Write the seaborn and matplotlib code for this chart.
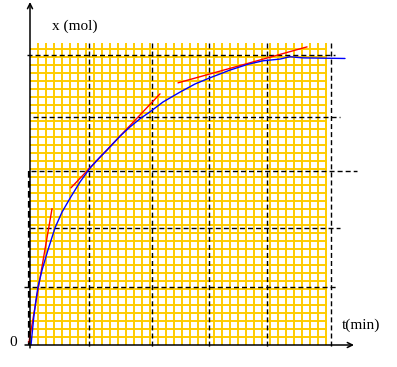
import numpy as np
import pandas as pd
import matplotlib
matplotlib.use("Agg")
import matplotlib.pyplot as plt
import seaborn as sns

# ---- data (t in min, x in graph units of one major division) ----
t_curve = [0.17, 0.33, 0.67, 1.0, 1.33, 2.0, 3.0, 4.17, 5.33, 6.67, 8.33, 10.0,
           11.67, 12.83, 15.0, 16.67, 18.33, 20.0, 22.17, 25.0, 27.5, 29.83,
           33.33, 36.33, 38.83, 41.67, 43.33, 45.5, 52.5]
x_curve = [0.0, 0.17, 0.52, 0.78, 1.0, 1.29, 1.64, 2.02, 2.29, 2.53, 2.81, 3.05,
           3.24, 3.36, 3.60, 3.76, 3.90, 4.02, 4.19, 4.36, 4.50, 4.60,
           4.74, 4.84, 4.90, 4.93, 4.97, 4.95, 4.94]

tangent_id = ["T1", "T1", "T2", "T2", "T3", "T3"]
tangent_t = [-0.17, 3.67, 6.83, 21.67, 24.67, 46.17]
tangent_x = [0.05, 2.35, 2.71, 4.33, 4.52, 5.14]

dash_v_t = [9.83, 20.33, 29.83, 39.5, 50.17]
dash_h_x = [1.0, 2.02, 3.0, 3.93, 5.0]
dash_h_start = [-1.0, 0.0, 0.17, 0.5, -0.5]
dash_h_end = [51.0, 51.7, 54.5, 51.7, 50.8]

minor_t_step = 1.3333
minor_x_step = 0.1379
grid_t_max = 49.5
grid_x_max = 5.207

label_y = "x (mol)"
label_x = "t(min)"
label_0 = "0"

# ---- figure ----
sns.set_theme(style="white")
plt.rcParams['font.family'] = ['Liberation Serif', 'DejaVu Serif']

fig = plt.figure(figsize=(3.97, 3.67), dpi=100)
ax = fig.add_axes([0, 0, 1, 1])
ax.set_xlim(-5.0, 61.1667)
ax.set_ylim(-0.37931, 5.94828)
ax.set_axis_off()

gold = "#FFCC00"
vt = np.arange(1, 38) * minor_t_step
hx = np.arange(1, 38) * minor_x_step
ax.vlines(vt, 0, grid_x_max, colors=gold, lw=1.4, zorder=1)
ax.hlines(hx, 0, grid_t_max, colors=gold, lw=1.4, zorder=1)

dash_kw = dict(color="black", lw=1.0, dashes=(3.6, 2.2), zorder=2)
for tv in dash_v_t:
    ax.plot([tv, tv], [grid_x_max, -0.06], **dash_kw)
for xv, a, b in zip(dash_h_x, dash_h_start, dash_h_end):
    ax.plot([a, b], [xv, xv], **dash_kw)
# dashed segment along the lower part of the y axis
ax.plot([-0.17, -0.17], [dash_h_x[2], 0], color="black", lw=1.6, dashes=(3.0, 1.5), zorder=2)

df_curve = pd.DataFrame({"t": t_curve, "x": x_curve})
sns.lineplot(data=df_curve, x="t", y="x", color="#0000FF", lw=1.0, sort=False,
             estimator=None, ax=ax, zorder=4)
df_tan = pd.DataFrame({"id": tangent_id, "t": tangent_t, "x": tangent_x})
sns.lineplot(data=df_tan, x="t", y="x", units="id", color="#FF0000", lw=1.0,
             estimator=None, sort=False, ax=ax, zorder=3)
ax.set_axis_off()

arrow_kw = dict(arrowstyle="->", lw=1.1, color="black", shrinkA=0, shrinkB=0,
                mutation_scale=9)
ax.annotate("", xy=(0, 5.914), xytext=(0, -0.05), arrowprops=arrow_kw, zorder=5)
ax.annotate("", xy=(54.0, 0), xytext=(-0.83, 0), arrowprops=arrow_kw, zorder=5)

ax.text(7.5, 5.5, label_y, fontsize=11, ha="center", va="center", color="black")
ax.text(55.17, 0.345, label_x, fontsize=11, ha="center", va="center", color="black")
ax.text(-2.83, 0.05, label_0, fontsize=11, ha="center", va="center", color="black")

fig.savefig("out.png", dpi=100)
